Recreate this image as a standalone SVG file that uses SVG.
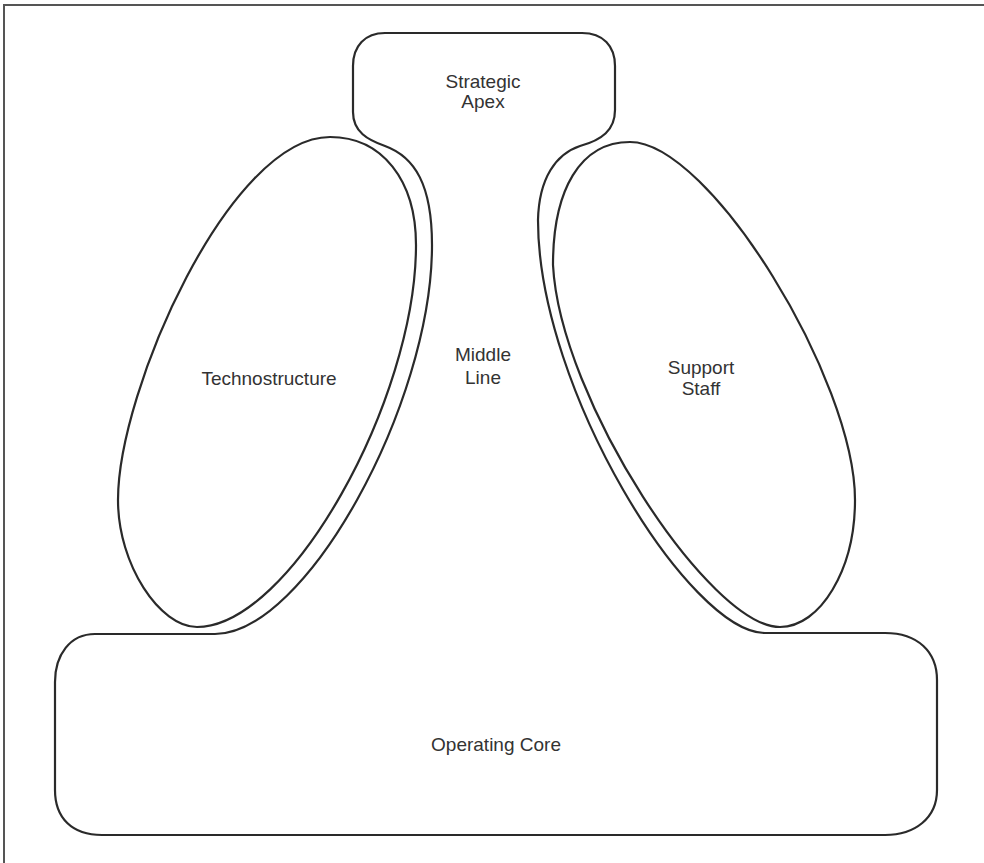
<svg xmlns="http://www.w3.org/2000/svg" width="984" height="863" viewBox="0 0 984 863">
<style>
.ln{fill:none;stroke:#2a2a2a;stroke-width:2.2;stroke-linejoin:round}
.lb{font-family:"Liberation Sans",Arial,sans-serif;font-size:19px;fill:#333;text-anchor:middle}
</style>
<rect width="984" height="863" fill="#fff"/>
<path d="M4,863 V5 H984" fill="none" stroke="#555" stroke-width="2"/>
<g id="outline">
<path class="ln" d="M385,33 H582 C603,33 615,46 615,66 V110 C615,130 602,140 580,146 C556,154 539,178 538,220 C538,390 690,633 765,633 H885 C918,633 937,652 937,680 V790 C937,818 915,835 885,835 H102 C72,835 55,818 55,790 V682 C55,655 70,634 95,634 H215 C305,634 432,405 432,245 C432,185 415,157 385,146 C368,140 353,132 353,112 V66 C353,46 365,33 385,33 Z"/>
</g>
<g id="strategic-apex">
<text class="lb" x="483" y="88">Strategic</text>
<text class="lb" x="483" y="108">Apex</text>
</g>
<g id="middle-line">
<text class="lb" x="483" y="361">Middle</text>
<text class="lb" x="483" y="384">Line</text>
</g>
<g id="technostructure">
<path class="ln" d="M330,137 C382,137 416,180 416,245 C416,400 290,627 197,627 C160,627 118,565 118,500 C118,390 230,137 330,137 Z"/>
<text class="lb" x="269" y="385">Technostructure</text>
</g>
<g id="support-staff">
<path class="ln" d="M630,142 C580,142 553,190 553,265 C560,400 710,627 780,627 C820,627 855,570 855,500 C855,380 710,142 630,142 Z"/>
<text class="lb" x="701" y="374">Support</text>
<text class="lb" x="701" y="395">Staff</text>
</g>
<g id="operating-core">
<text class="lb" x="496" y="751">Operating Core</text>
</g>
<g id="connectors"></g>
</svg>
